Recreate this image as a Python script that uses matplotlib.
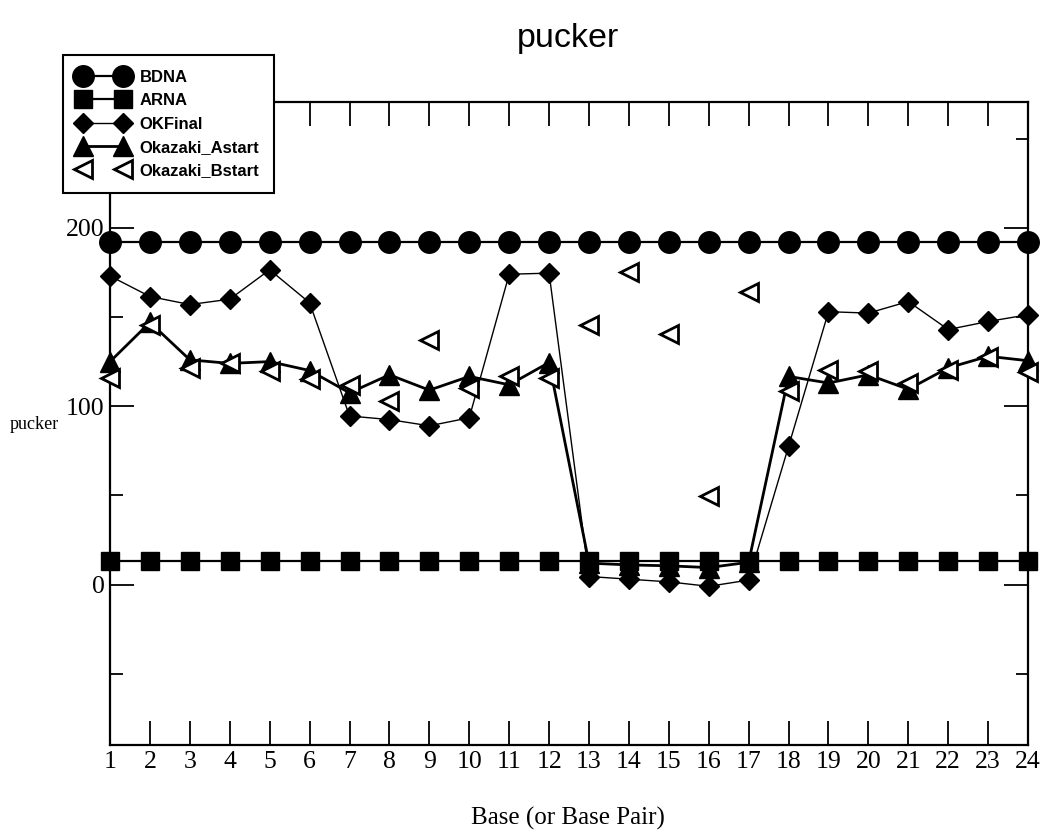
import matplotlib
matplotlib.use("Agg")
import matplotlib.pyplot as plt
from matplotlib.ticker import MultipleLocator

bases = list(range(1, 25))
bdna = [192] * 24
arna = [13] * 24
okfinal = [173, 161.5, 157, 160, 176.5, 158, 94.5, 92.5, 89, 93.5, 174, 174.6,
           4.5, 3, 1.5, -1, 2.5, 77.5, 153, 152.2, 158.7, 143, 147.5, 151.3]
astart = [125, 147, 126, 124, 125, 120, 107.5, 117.6, 109, 116.7, 112, 124.5,
          12, 11, 10.5, 9.5, 12.5, 116.7, 113, 117.6, 109.5, 121.5, 128, 125.5]
bstart = [116, 145.7, 121.5, 124, 119.5, 115.5, 112, 102.7, 137, 110, 116.7, 116,
          145.7, 175.3, 140.6, 49.5, 164.3, 108.3, 120.4, 119.5, 113, 120.4, 127.5, 119]

x_ticks = list(range(1, 25))
y_ticks = [0, 100, 200]

serif = ["Liberation Serif", "DejaVu Serif"]
sans = ["Liberation Sans", "DejaVu Sans"]

fig = plt.figure(figsize=(10.47, 8.33), dpi=100)
ax = fig.add_axes([0.1051, 0.1056, 0.8768, 0.772])

ax.plot(bases, bdna, color="black", lw=1.6, marker="o", ms=15.5, label="BDNA", clip_on=False, zorder=3)
ax.plot(bases, arna, color="black", lw=1.6, marker="s", ms=13, label="ARNA", clip_on=False, zorder=3)
ax.plot(bases, okfinal, color="black", lw=1.0, marker="D", ms=10, label="OKFinal", clip_on=False, zorder=4)
ax.plot(bases, astart, color="black", lw=2.0, marker="^", ms=14, label="Okazaki_Astart", clip_on=False, zorder=5)
ax.plot(bases, bstart, color="black", lw=0, linestyle="none", marker="<", ms=13,
        markerfacecolor="white", markeredgecolor="black", markeredgewidth=2.0,
        label="Okazaki_Bstart", clip_on=False, zorder=6)

ax.set_xlim(1, 24)
ax.set_ylim(-90, 270.6)
ax.set_xticks(x_ticks)
ax.set_yticks(y_ticks)
ax.yaxis.set_minor_locator(MultipleLocator(50))
ax.tick_params(axis="both", which="major", direction="in", length=17, width=1.3,
               top=True, right=True, labelsize=18.5, pad=4)
ax.tick_params(axis="y", which="minor", direction="in", length=9, width=1.3, right=True, left=True)
for lbl in ax.get_xticklabels() + ax.get_yticklabels():
    lbl.set_fontfamily(serif)
for sp in ax.spines.values():
    sp.set_linewidth(1.6)

fig.text(0.5425, 0.954, "pucker", ha="center", va="center", fontsize=24.5, family=sans)
fig.text(0.5425, 0.018, "Base (or Base Pair)", ha="center", va="center", fontsize=18, family=serif)
fig.text(0.009, 0.490, "pucker", ha="left", va="center", fontsize=13, family=serif)

leg = ax.legend(loc="upper left", bbox_to_anchor=(0.0602, 0.934), bbox_transform=fig.transFigure,
                borderaxespad=0, numpoints=2, handlelength=3.0, handletextpad=0.7,
                labelspacing=0.5, borderpad=0.9, fancybox=False, framealpha=1,
                prop={"family": sans, "size": 12, "weight": "bold"})
leg.get_frame().set_edgecolor("black")
leg.get_frame().set_linewidth(1.5)
leg.set_zorder(10)

fig.savefig("out.png", dpi=100)
